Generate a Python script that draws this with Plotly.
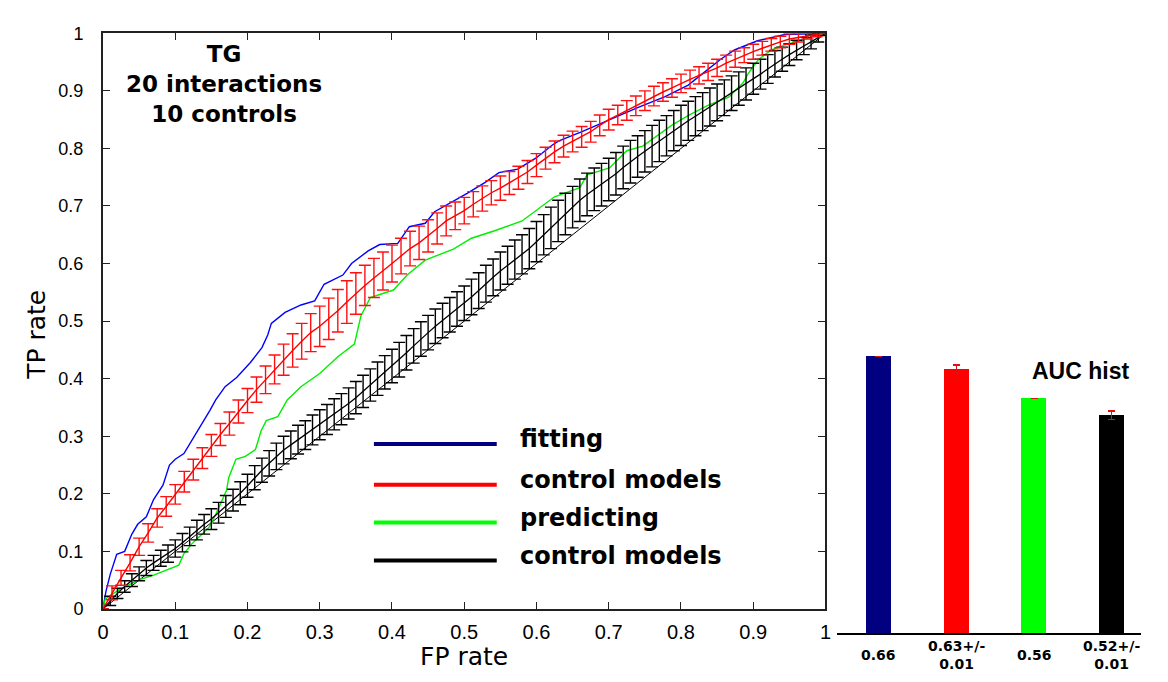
import plotly.graph_objects as go

# ---------------- ROC data ----------------
# "fitting" ROC curve (blue)
fit_fp = [0, 0.004, 0.01, 0.019, 0.03, 0.04, 0.048, 0.06, 0.07, 0.083, 0.092, 0.1, 0.112, 0.124,
          0.137, 0.148, 0.156, 0.169, 0.185, 0.204, 0.22, 0.228, 0.233, 0.252, 0.274, 0.293, 0.306,
          0.332, 0.344, 0.367, 0.383, 0.408, 0.424, 0.446, 0.459, 0.485, 0.504, 0.529, 0.548,
          0.574, 0.599, 0.622, 0.631, 0.663, 0.702, 0.74, 0.778, 0.81, 0.829, 0.842, 0.855,
          0.874, 0.906, 0.944, 1.0]
fit_tp = [0, 0.03, 0.06, 0.095, 0.1, 0.13, 0.147, 0.16, 0.19, 0.215, 0.25, 0.26, 0.27, 0.295,
          0.32, 0.345, 0.363, 0.386, 0.402, 0.428, 0.454, 0.476, 0.496, 0.515, 0.528, 0.535, 0.564,
          0.58, 0.6, 0.622, 0.633, 0.635, 0.664, 0.67, 0.69, 0.708, 0.722, 0.741, 0.758,
          0.764, 0.783, 0.806, 0.813, 0.829, 0.851, 0.871, 0.89, 0.91, 0.929, 0.942, 0.955,
          0.971, 0.987, 0.998, 1.0]

# "predicting" ROC curve (green)
pred_fp = [0, 0.003, 0.023, 0.051, 0.071, 0.088, 0.105, 0.112, 0.123, 0.133, 0.147, 0.156, 0.164,
           0.171, 0.174, 0.184, 0.197, 0.211, 0.219, 0.226, 0.242, 0.255, 0.274, 0.3, 0.325, 0.348,
           0.357, 0.37, 0.402, 0.421, 0.446, 0.485, 0.51, 0.542, 0.58, 0.612, 0.625, 0.66, 0.67,
           0.701, 0.725, 0.747, 0.77, 0.788, 0.811, 0.838, 0.866, 0.886, 0.893, 0.907, 0.925,
           0.944, 0.971, 1.0]
pred_tp = [0, 0.017, 0.034, 0.051, 0.059, 0.067, 0.076, 0.096, 0.113, 0.125, 0.142, 0.164, 0.186,
           0.206, 0.228, 0.26, 0.265, 0.277, 0.31, 0.327, 0.334, 0.363, 0.386, 0.409, 0.438, 0.46,
           0.509, 0.541, 0.554, 0.58, 0.606, 0.625, 0.644, 0.657, 0.674, 0.705, 0.716, 0.732, 0.754,
           0.766, 0.796, 0.804, 0.825, 0.841, 0.858, 0.875, 0.889, 0.914, 0.93, 0.954, 0.971,
           0.98, 0.99, 1.0]

# control models for fitting (red): mean ROC with spread
ctrl_fit_fp = [0, 0.0125, 0.025, 0.0375, 0.05, 0.0625, 0.075, 0.0875, 0.1,
               0.1125, 0.125, 0.1375, 0.15, 0.1625, 0.175, 0.1875, 0.2,
               0.2125, 0.225, 0.2375, 0.25, 0.2625, 0.275, 0.2875, 0.3,
               0.3125, 0.325, 0.3375, 0.35, 0.3625, 0.375, 0.3875, 0.4,
               0.4125, 0.425, 0.4375, 0.45, 0.4625, 0.475, 0.4875, 0.5,
               0.5125, 0.525, 0.5375, 0.55, 0.5625, 0.575, 0.5875, 0.6,
               0.6125, 0.625, 0.6375, 0.65, 0.6625, 0.675, 0.6875, 0.7,
               0.7125, 0.725, 0.7375, 0.75, 0.7625, 0.775, 0.7875, 0.8,
               0.8125, 0.825, 0.8375, 0.85, 0.8625, 0.875, 0.8875, 0.9,
               0.9125, 0.925, 0.9375, 0.95, 0.9625, 0.975, 0.9875, 1.0]
ctrl_fit_tp = [0, 0.028, 0.054, 0.08, 0.108, 0.132, 0.158, 0.178, 0.199,
               0.221, 0.242, 0.262, 0.284, 0.303, 0.322, 0.343, 0.362,
               0.381, 0.398, 0.416, 0.433, 0.449, 0.465, 0.48, 0.491,
               0.504, 0.518, 0.533, 0.548, 0.562, 0.575, 0.587, 0.6,
               0.613, 0.626, 0.636, 0.648, 0.661, 0.674, 0.683, 0.692,
               0.703, 0.713, 0.723, 0.731, 0.74, 0.749, 0.759, 0.771,
               0.783, 0.794, 0.804, 0.812, 0.82, 0.829, 0.84, 0.85,
               0.858, 0.866, 0.874, 0.883, 0.891, 0.898, 0.905, 0.913,
               0.92, 0.927, 0.933, 0.94, 0.948, 0.955, 0.962, 0.968,
               0.974, 0.98, 0.985, 0.99, 0.993, 0.996, 0.998, 1.0]
ctrl_fit_sd = [0, 0.012, 0.013, 0.014, 0.015, 0.016, 0.016, 0.017, 0.017,
               0.018, 0.018, 0.018, 0.019, 0.019, 0.02, 0.02, 0.021,
               0.022, 0.024, 0.025, 0.027, 0.029, 0.031, 0.033, 0.035,
               0.036, 0.037, 0.037, 0.036, 0.035, 0.034, 0.033, 0.032,
               0.031, 0.03, 0.029, 0.028, 0.027, 0.026, 0.024, 0.023,
               0.022, 0.022, 0.021, 0.021, 0.02, 0.02, 0.02, 0.02,
               0.019, 0.019, 0.019, 0.018, 0.018, 0.018, 0.018, 0.018,
               0.017, 0.017, 0.017, 0.017, 0.017, 0.016, 0.016, 0.016,
               0.016, 0.015, 0.015, 0.015, 0.014, 0.014, 0.013, 0.013,
               0.012, 0.011, 0.01, 0.009, 0.008, 0.006, 0.004, 0]

# control models for predicting (black): mean ROC with spread
ctrl_pred_fp = [0, 0.01, 0.02, 0.03, 0.04, 0.05, 0.06, 0.07, 0.08, 0.09,
                0.1, 0.11, 0.12, 0.13, 0.14, 0.15, 0.16, 0.17, 0.18, 0.19,
                0.2, 0.21, 0.22, 0.23, 0.24, 0.25, 0.26, 0.27, 0.28, 0.29,
                0.3, 0.31, 0.32, 0.33, 0.34, 0.35, 0.36, 0.37, 0.38, 0.39,
                0.4, 0.41, 0.42, 0.43, 0.44, 0.45, 0.46, 0.47, 0.48, 0.49,
                0.5, 0.51, 0.52, 0.53, 0.54, 0.55, 0.56, 0.57, 0.58, 0.59,
                0.6, 0.61, 0.62, 0.63, 0.64, 0.65, 0.66, 0.67, 0.68, 0.69,
                0.7, 0.71, 0.72, 0.73, 0.74, 0.75, 0.76, 0.77, 0.78, 0.79,
                0.8, 0.81, 0.82, 0.83, 0.84, 0.85, 0.86, 0.87, 0.88, 0.89,
                0.9, 0.91, 0.92, 0.93, 0.94, 0.95, 0.96, 0.97, 0.98, 0.99, 1.0]
ctrl_pred_tp = [0, 0.014, 0.027, 0.039, 0.05, 0.061, 0.071, 0.08, 0.088, 0.096,
                0.105, 0.115, 0.126, 0.137, 0.147, 0.156, 0.167, 0.178, 0.189, 0.201,
                0.214, 0.228, 0.241, 0.253, 0.265, 0.276, 0.285, 0.294, 0.302, 0.311,
                0.32, 0.329, 0.338, 0.347, 0.357, 0.367, 0.378, 0.389, 0.4, 0.411,
                0.422, 0.433, 0.445, 0.457, 0.469, 0.48, 0.491, 0.501, 0.511, 0.521,
                0.531, 0.542, 0.553, 0.565, 0.576, 0.587, 0.597, 0.607, 0.616, 0.626,
                0.638, 0.65, 0.662, 0.674, 0.686, 0.698, 0.71, 0.72, 0.729, 0.737,
                0.746, 0.756, 0.767, 0.777, 0.786, 0.795, 0.804, 0.813, 0.822, 0.831,
                0.84, 0.848, 0.856, 0.864, 0.872, 0.88, 0.888, 0.896, 0.904, 0.912,
                0.921, 0.929, 0.938, 0.947, 0.955, 0.963, 0.971, 0.978, 0.985, 0.993, 1.0]
ctrl_pred_sd = [0, 0.008, 0.009, 0.01, 0.011, 0.012, 0.013, 0.013, 0.014, 0.015,
                0.015, 0.016, 0.016, 0.017, 0.017, 0.018, 0.018, 0.019, 0.019, 0.02,
                0.02, 0.021, 0.021, 0.022, 0.023, 0.024, 0.024, 0.025, 0.025, 0.026,
                0.026, 0.026, 0.027, 0.027, 0.027, 0.028, 0.028, 0.028, 0.029, 0.029,
                0.029, 0.03, 0.03, 0.03, 0.03, 0.03, 0.03, 0.03, 0.03, 0.03,
                0.03, 0.031, 0.031, 0.032, 0.032, 0.033, 0.033, 0.034, 0.034, 0.035,
                0.035, 0.035, 0.036, 0.036, 0.036, 0.036, 0.037, 0.037, 0.037, 0.037,
                0.037, 0.037, 0.037, 0.037, 0.036, 0.036, 0.036, 0.036, 0.035, 0.035,
                0.035, 0.034, 0.034, 0.033, 0.033, 0.032, 0.031, 0.03, 0.029, 0.028,
                0.027, 0.026, 0.025, 0.023, 0.021, 0.019, 0.017, 0.015, 0.012, 0.008, 0.004]

# chance diagonal
diag_fp = [0, 1]
diag_tp = [0, 1]

# ---------------- AUC histogram data ----------------
auc_names = ["fitting", "control fitting", "predicting", "control predicting"]
auc_values = [0.66, 0.63, 0.56, 0.52]
auc_errors = [0.0, 0.01, 0.0, 0.01]
auc_labels = ["0.66", "0.63+/-<br>0.01", "0.56", "0.52+/-<br>0.01"]
auc_colors = ["#000080", "#ff0000", "#00ff00", "#000000"]

# legend entries (drawn by hand as long strokes)
legend_texts = ["fitting", "control models", "predicting", "control models"]
legend_colors = ["#000080", "#ff0000", "#00ff00", "#000000"]

W, H = 1168, 682


def px_x(px):
    """pixel column -> paper fraction"""
    return px / W


def px_y(py):
    """pixel row (from top) -> paper fraction"""
    return (H - py) / H


BOLD = "DejaVu Sans"
TICKFONT = "Liberation Sans, Arial"

fig = go.Figure()

fig.add_trace(go.Scatter(x=diag_fp, y=diag_tp, mode="lines",
                         line=dict(color="black", width=1), hoverinfo="skip"))
fig.add_trace(go.Scatter(x=fit_fp, y=fit_tp, mode="lines",
                         line=dict(color="#0000ff", width=1.4)))
fig.add_trace(go.Scatter(x=pred_fp, y=pred_tp, mode="lines",
                         line=dict(color="#00ee00", width=1.4)))
fig.add_trace(go.Scatter(x=ctrl_pred_fp, y=ctrl_pred_tp, mode="lines",
                         line=dict(color="black", width=1.3),
                         error_y=dict(type="data", array=ctrl_pred_sd, color="black",
                                      thickness=1.4, width=6)))
fig.add_trace(go.Scatter(x=ctrl_fit_fp, y=ctrl_fit_tp, mode="lines",
                         line=dict(color="#ff0000", width=1.4),
                         error_y=dict(type="data", array=ctrl_fit_sd, color="#ff1010",
                                      thickness=1.4, width=6)))

# AUC bars
fig.add_trace(go.Bar(x=[0, 1, 2, 3], y=auc_values, xaxis="x2", yaxis="y2",
                     marker=dict(color=auc_colors, line=dict(width=0)),
                     width=0.32,
                     error_y=dict(type="data", array=auc_errors, color="#e01010",
                                  thickness=1.5, width=3.5),
                     hovertext=auc_names))

# ROC panel spans columns 98..828 and rows 24..617
axis_common = dict(range=[0, 1], dtick=0.1, tick0=0, ticks="inside", ticklen=7,
                   tickwidth=1.2, tickcolor="#222", showline=True, linecolor="#222",
                   linewidth=2, mirror="ticks", showgrid=False, zeroline=False)

bar_px_per_unit = 432  # bar panel: baseline at row 642

fig.update_layout(
    width=W, height=H, autosize=False,
    margin=dict(l=0, r=0, t=0, b=0),
    paper_bgcolor="white", plot_bgcolor="white",
    showlegend=False,
    xaxis=dict(domain=[px_x(98), px_x(828)],
               tickfont=dict(family=TICKFONT, size=20, color="black"),
               ticklabelstandoff=4, **axis_common),
    yaxis=dict(domain=[px_y(617), px_y(24)],
               tickfont=dict(family=TICKFONT, size=18, color="black"),
               ticklabelstandoff=14, **axis_common),
    xaxis2=dict(domain=[px_x(840), px_x(1147)], anchor="y2", range=[-0.536, 3.38],
                showline=True, linecolor="black", linewidth=1.5, ticks="",
                showticklabels=False, showgrid=False, zeroline=False),
    yaxis2=dict(domain=[px_y(642), px_y(24)], anchor="x2",
                range=[0, (642 - 24) / bar_px_per_unit],
                visible=False, showgrid=False, zeroline=False),
    bargap=0,
)

ann = []
# title block inside the ROC panel
ann.append(dict(x=0.167, y=0.99, xref="x", yref="y", xanchor="center", yanchor="top",
                text="<b>TG<br>20 interactions<br>10 controls</b>", showarrow=False,
                font=dict(family=BOLD, size=23, color="black")))
# axis titles
ann.append(dict(x=px_x(463), y=px_y(666), xref="paper", yref="paper",
                text="FP rate", showarrow=False, xanchor="center", yanchor="middle",
                font=dict(family="DejaVu Sans", size=25, color="black")))
ann.append(dict(x=px_x(30), y=px_y(335), xref="paper", yref="paper",
                text="TP rate", showarrow=False, textangle=-90, xanchor="center",
                yanchor="middle", font=dict(family="DejaVu Sans", size=25, color="black")))

# hand-drawn legend
legend_y = [0.2867, 0.2159, 0.1501, 0.0843]
shapes = []
for txt, col, ly in zip(legend_texts, legend_colors, legend_y):
    shapes.append(dict(type="line", xref="x", yref="y", x0=0.375, x1=0.545, y0=ly, y1=ly,
                       line=dict(color=col, width=4)))
    ann.append(dict(x=0.575, y=ly + 0.008, xref="x", yref="y", xanchor="left",
                    yanchor="middle", text="<b>" + txt + "</b>", showarrow=False,
                    font=dict(family=BOLD, size=24, color="black")))

# AUC panel labels
ann.append(dict(x=px_x(1086), y=px_y(372), xref="paper", yref="paper",
                text="<b>AUC hist</b>", showarrow=False, xanchor="center", yanchor="middle",
                font=dict(family="Liberation Sans", size=23, color="black")))
for i, lab in enumerate(auc_labels):
    ann.append(dict(x=i, y=px_y(665), xref="x2", yref="paper", text="<b>" + lab + "</b>",
                    showarrow=False, xanchor="center", yanchor="middle",
                    font=dict(family=BOLD, size=14, color="black")))

fig.update_layout(annotations=ann, shapes=shapes)

fig.write_html("out.html")
